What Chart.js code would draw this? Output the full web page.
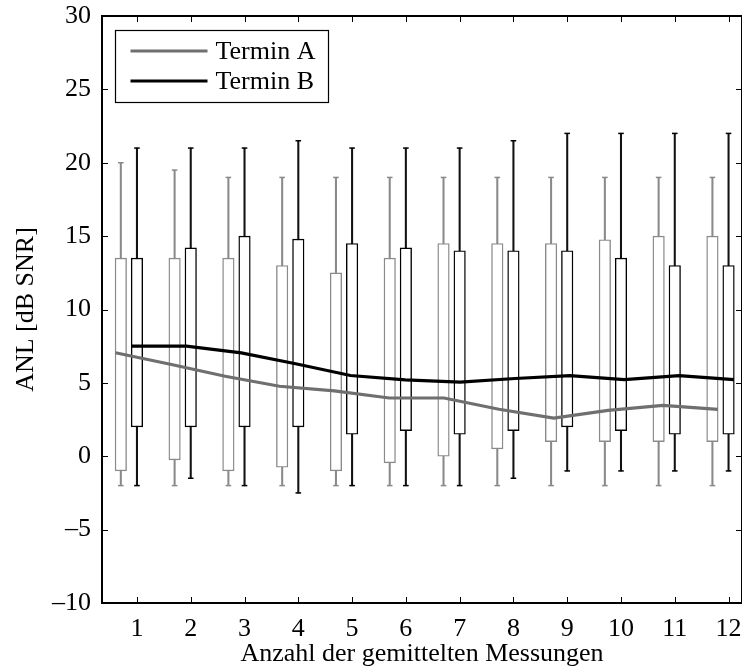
<!DOCTYPE html>
<html><head><meta charset="utf-8">
<script src="https://cdn.jsdelivr.net/npm/chart.js@4.4.1/dist/chart.umd.min.js"></script>
<style>html,body{margin:0;padding:0;background:#fff;} #wrap{width:742px;height:670px;position:relative;}</style>
</head><body><div id="wrap"><canvas id="c" width="742" height="670"></canvas></div>
<script>
// ---- data ----
const measurements = [1,2,3,4,5,6,7,8,9,10,11,12];
const xTicks = [1,2,3,4,5,6,7,8,9,10,11,12];
const yTicks = [-10,-5,0,5,10,15,20,25,30];
const seriesNames = ['Termin A','Termin B'];
const xTitle = 'Anzahl der gemittelten Messungen';
const yTitle = 'ANL [dB SNR]';
// Termin A box plots
const aMin = [-2,-2,-2,-2,-2,-2,-2,-2,-2,-2,-2,-2];
const aQ1  = [-1,-0.25,-1,-0.75,-1,-0.45,0,0.5,1,1,1,1];
const aQ3  = [13.5,13.5,13.5,13,12.5,13.5,14.5,14.5,14.5,14.75,15,15];
const aMax = [20,19.5,19,19,19,19,19,19,19,19,19,19];
// Termin B box plots
const bMin = [-2,-1.5,-2,-2.5,-2,-2,-2,-1.5,-1,-1,-1,-1];
const bQ1  = [2,2,2,2,1.5,1.75,1.5,1.75,2,1.75,1.5,1.5];
const bQ3  = [13.5,14.2,15,14.8,14.5,14.2,14,14,14,13.5,13,13];
const bMax = [21,21,21,21.5,21,21,21,21.5,22,22,22,22];
// mean curves
const lineA = [7.05,6.27,5.45,4.77,4.45,3.97,3.97,3.2,2.6,3.13,3.47,3.2];
const lineB = [7.5,7.5,7.04,6.3,5.5,5.2,5.05,5.3,5.5,5.22,5.5,5.22];
const lineBPos = [0.9,1.92,2.94,3.95,4.97,5.99,7.01,8.03,9.05,10.06,11.08,12.1];
const offsetA = -0.3;

// ---- styles ----
const greyLine = '#6f6f6f';
const greyBox = '#8a8a8a';
const blackBox = '#000000';
const FONT = 'Liberation Serif';

const posA = measurements.map(m => m + offsetA);
const posB = measurements.slice();
const lineAPos = lineBPos.map(p => p + offsetA);

function rangePts(pos, lo, hi){ return pos.map((p,i)=>({x:p, y:[lo[i], hi[i]]})); }
function capPts(pos, lo, hi){ const r=[]; pos.forEach((p,i)=>{ r.push({x:p,y:lo[i]}); r.push({x:p,y:hi[i]}); }); return r; }
function linePts(pos, v){ return pos.map((p,i)=>({x:p,y:v[i]})); }

const frameTicks = {
  id:'frameTicks',
  afterDraw(chart){
    const {ctx, chartArea:a, scales} = chart;
    ctx.save();
    ctx.strokeStyle = '#000';
    ctx.lineWidth = 1;
    const L = 6;
    ctx.beginPath();
    scales.x.ticks.forEach(t=>{
      const px = Math.round(scales.x.getPixelForValue(t.value))+0.5;
      ctx.moveTo(px,a.bottom); ctx.lineTo(px,a.bottom-L);
      ctx.moveTo(px,a.top); ctx.lineTo(px,a.top+L);
    });
    scales.y.ticks.forEach(t=>{
      const py = Math.round(scales.y.getPixelForValue(t.value))+0.5;
      ctx.moveTo(a.left,py); ctx.lineTo(a.left+L,py);
      ctx.moveTo(a.right,py); ctx.lineTo(a.right-L,py);
    });
    ctx.stroke();
    ctx.lineWidth = 2;
    ctx.strokeRect(a.left, a.top, a.right-a.left, a.bottom-a.top);
    ctx.restore();
  }
};

const boxLegend = {
  id:'boxLegend',
  afterDraw(chart){
    const ctx = chart.ctx;
    const a = chart.chartArea;
    const x0 = a.left + 13.5, y0 = a.top + 14.5, w = 213, h = 72;
    ctx.save();
    ctx.fillStyle = '#fff';
    ctx.fillRect(x0, y0, w, h);
    ctx.strokeStyle = '#000'; ctx.lineWidth = 1.2;
    ctx.strokeRect(x0, y0, w, h);
    const items = [{t:seriesNames[0], c:greyLine, y:y0+20.5},{t:seriesNames[1], c:'#000', y:y0+50.5}];
    ctx.font = '26px "' + FONT + '"';
    ctx.textBaseline = 'middle';
    ctx.textAlign = 'left';
    items.forEach(it=>{
      ctx.strokeStyle = it.c; ctx.lineWidth = 3;
      ctx.beginPath(); ctx.moveTo(x0+15, it.y); ctx.lineTo(x0+92, it.y); ctx.stroke();
      ctx.fillStyle = '#000';
      ctx.fillText(it.t, x0+100, it.y+1);
    });
    ctx.restore();
  }
};

Chart.defaults.font.family = FONT;
Chart.defaults.color = '#000';

new Chart(document.getElementById('c'), {
  type:'bar',
  data:{
    datasets:[
      {type:'line', label:seriesNames[1], data:linePts(lineBPos, lineB), borderColor:'#000', borderWidth:3.2, pointRadius:0, tension:0, order:0},
      {type:'line', label:seriesNames[0], data:linePts(lineAPos, lineA), borderColor:greyLine, borderWidth:3.2, pointRadius:0, tension:0, order:0},
      {type:'scatter', label:'capsA', data:capPts(posA, aMin, aMax), pointStyle:'line', pointRadius:2.8, borderColor:greyBox, pointBorderWidth:1.5, borderWidth:1.5, order:1},
      {type:'scatter', label:'capsB', data:capPts(posB, bMin, bMax), pointStyle:'line', pointRadius:2.8, borderColor:'#000', pointBorderWidth:1.5, borderWidth:1.5, order:1},
      {label:'boxA', data:rangePts(posA, aQ1, aQ3), backgroundColor:'#fff', borderColor:greyBox, borderWidth:1.4, borderSkipped:false, barThickness:11.5, grouped:false, order:2},
      {label:'boxB', data:rangePts(posB, bQ1, bQ3), backgroundColor:'#fff', borderColor:blackBox, borderWidth:1.4, borderSkipped:false, barThickness:11.5, grouped:false, order:2},
      {label:'whA', data:rangePts(posA, aMin, aMax), backgroundColor:greyBox, borderWidth:0, barThickness:1.4, grouped:false, order:3},
      {label:'whB', data:rangePts(posB, bMin, bMax), backgroundColor:'#111', borderWidth:0, barThickness:1.4, grouped:false, order:3}
    ]
  },
  options:{
    responsive:false,
    animation:false,
    layout:{autoPadding:false, padding:{top:16,left:0,right:-1,bottom:0}},
    plugins:{legend:{display:false}, tooltip:{enabled:false}},
    scales:{
      x:{
        type:'linear', min:0.35, max:12.25, offset:false,
        grid:{display:false}, border:{display:false},
        afterBuildTicks:(s)=>{ s.ticks = xTicks.map(v=>({value:v})); },
        afterFit:(s)=>{ s.height = 67; s.paddingLeft = 0; s.paddingRight = 0; },
        ticks:{font:{size:26, family:FONT}, padding:3, maxRotation:0, autoSkip:false, color:'#000'},
        title:{display:true, text:xTitle, font:{size:26, family:FONT}, padding:{top:0,bottom:0}, color:'#000'}
      },
      y:{
        type:'linear', min:-10, max:30, beginAtZero:false,
        grid:{display:false}, border:{display:false},
        afterBuildTicks:(s)=>{ s.ticks = yTicks.map(v=>({value:v})); },
        afterFit:(s)=>{ s.width = 102; s.paddingTop = 0; s.paddingBottom = 0; },
        ticks:{font:{size:26, family:FONT}, padding:3, color:'#000',
          callback:(v)=> v<0 ? '\u2013'+Math.abs(v) : String(v)},
        title:{display:true, text:yTitle, font:{size:26, family:FONT}, padding:{top:11,bottom:0}, color:'#000'}
      }
    }
  },
  plugins:[frameTicks, boxLegend]
});
</script></body></html>
